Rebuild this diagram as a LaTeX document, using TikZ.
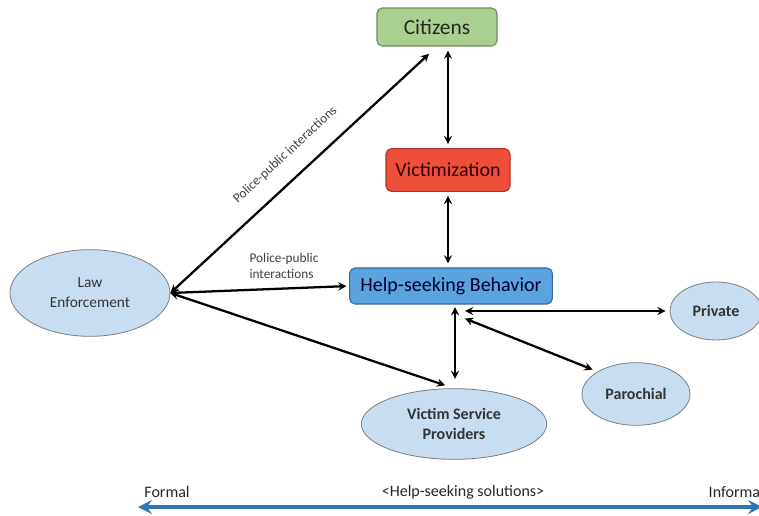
\documentclass[tikz,border=0pt]{standalone}
\usepackage{fontspec}
\setmainfont{Carlito}
\usetikzlibrary{shapes, arrows}

\definecolor{citfill}{RGB}{169,208,142}
\definecolor{citline}{RGB}{110,140,90}
\definecolor{vicfill}{RGB}{238,78,58}
\definecolor{vicline}{RGB}{170,50,40}
\definecolor{helpfill}{RGB}{90,163,222}
\definecolor{helpline}{RGB}{55,105,155}
\definecolor{ellfill}{RGB}{200,222,240}
\definecolor{ellline}{RGB}{125,125,125}
\definecolor{scaleblue}{RGB}{46,117,182}

\begin{document}
\begin{tikzpicture}[
    x=0.75pt, y=-0.75pt,
    box/.style={rectangle, draw, rounded corners=4pt, line width=0.8pt, inner sep=0pt,
    font=\fontsize{15}{18}\selectfont},
    actor/.style={ellipse, draw=ellline, fill=ellfill, line width=0.6pt, inner sep=0pt,
    align=center, text=black!80, font=\fontsize{12}{15}\selectfont\bfseries},
    lbl/.style={font=\fontsize{10}{12}\selectfont, text=black!75},
    arrow/.style={line width=1.7pt, <->, >=stealth},
    scalearrow/.style={line width=3.5pt, <->, >=stealth, draw=scaleblue}
]
\useasboundingbox (0,0) rectangle (759,516);

% Nodes
\node[box, fill=citfill, draw=citline, text=black!85, minimum width=90pt, minimum height=28.5pt,
    font=\fontsize{16}{18}\selectfont] (cit) at (437,27) {Citizens};
\node[box, fill=vicfill, draw=vicline, text=black!80!red, minimum width=93pt, minimum height=32pt]
    (vic) at (448,170) {Victimization};
\node[box, fill=helpfill, draw=helpline, text=black!80!blue, minimum width=152pt, minimum height=27pt]
    (help) at (451,286) {Help-seeking Behavior};

\node[actor, minimum width=120pt, minimum height=65pt, font=\fontsize{11.5}{15}\selectfont]
    (law) at (90,293) {Law\\ Enforcement};
\node[actor, minimum width=139pt, minimum height=53pt] (vsp) at (454,424) {Victim Service\\ Providers};
\node[actor, minimum width=81pt, minimum height=47pt] (par) at (636,394) {Parochial};
\node[actor, minimum width=69pt, minimum height=43.5pt] (pri) at (716,311) {Private};

\node[lbl, align=left] (lblhelp) at (284,266) {Police-public\\ interactions};

% Arrows
\draw[arrow, shorten >=8pt] (law.east) -- (cit.south)
    node[lbl, pos=0.49, sloped, above=9pt] (lblcit) {Police-public interactions};
\draw[arrow, shorten <=3pt, shorten >=3pt] (vic.north |- cit.south) -- (vic.north);
\draw[arrow, shorten <=3pt, shorten >=3pt] (vic.south) -- (vic.south |- help.north);
\draw[arrow, shorten >=2pt] (law.east) -- (help.west);
\draw[arrow, shorten >=7pt] (law.east) -- (vsp.north);
\draw[arrow, shorten <=2pt, shorten >=7pt] ([xshift=3pt]help.south) -- ([xshift=3pt]help.south |- vsp.north);
\draw[arrow, shorten >=3pt] ([xshift=10.5pt]help.south |- pri.west) -- (pri.west);
\draw[arrow, shorten >=4pt] ([xshift=10.5pt, yshift=-10.5pt]help.south) -- (par.north west);

% Scale
\coordinate (formal) at (138,507);
\coordinate (informal) at (762,507);
\draw[scalearrow] (formal) -- (informal);
\node[font=\fontsize{12}{14}\selectfont, text=black!85] (lformal) at (167,492) {Formal};
\node[font=\fontsize{12}{14}\selectfont, text=black!85] (lsol) at (463,492) {<Help-seeking solutions>};
\node[font=\fontsize{12}{14}\selectfont, text=black!85, anchor=west] (linformal) at (704,492) {Informal};

\end{tikzpicture}
\end{document}
